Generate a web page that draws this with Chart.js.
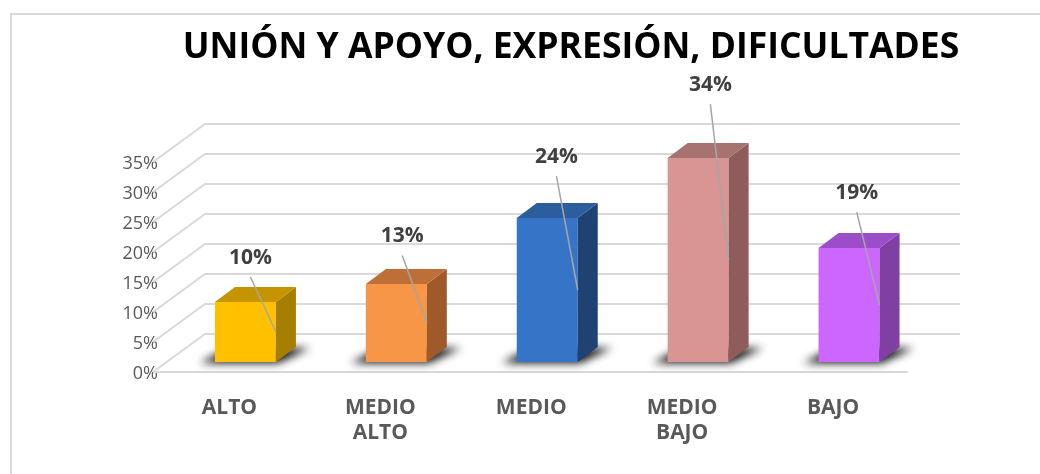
<!DOCTYPE html>
<html>
<head>
<meta charset="utf-8">
<script src="https://cdn.jsdelivr.net/npm/chart.js@4"></script>
<style>
  html, body { margin: 0; padding: 0; background: #fff; }
  #wrap { width: 1040px; height: 474px; }
</style>
</head>
<body>
<div id="wrap"><canvas id="chart" width="1040" height="474"></canvas></div>
<script>
// Chart data
const chartTitle = "UNIÓN Y APOYO, EXPRESIÓN, DIFICULTADES";
const categories = ["ALTO", ["MEDIO", "ALTO"], "MEDIO", ["MEDIO", "BAJO"], "BAJO"];
const values = [10, 13, 24, 34, 19];
const yTicks = [0, 5, 10, 15, 20, 25, 30, 35];

// Face colours per bar (front, side, top)
const frontColors = ["#FFC000", "#F79646", "#3674C8", "#D99594", "#CC66FF"];
const sideColors = ["#A67E00", "#A05A2A", "#1F4272", "#8E5C5B", "#803FA2"];
const topColors = ["#C49500", "#BE6F37", "#2C5E9E", "#A67371", "#9C4DC8"];

const DX = 20, DY = 15; // bar depth

const bar3d = {
    id: "bar3d",
    beforeDatasetsDraw(chart) {
        const { ctx, chartArea: a, scales: { y } } = chart;
        ctx.save();
        // back wall + left wall grid
        ctx.strokeStyle = "#d9d9d9";
        ctx.lineWidth = 2;
        yTicks.forEach(v => {
            const py = y.getPixelForValue(v);
            ctx.beginPath();
            ctx.moveTo(a.left - 17, py + 10);
            ctx.lineTo(a.left + 35, py - 28);
            ctx.lineTo(a.right + 35.5, py - 28);
            ctx.stroke();
        });
        ctx.beginPath();
        ctx.moveTo(a.left - 17, a.bottom + 10);
        ctx.lineTo(a.right - 16.5, a.bottom + 10);
        ctx.stroke();

        // floor shadows
        const off = 3000;
        ctx.shadowColor = "rgba(0,0,0,0.95)";
        ctx.shadowBlur = 8;
        ctx.shadowOffsetX = off;
        ctx.fillStyle = "#000";
        chart.getDatasetMeta(0).data.forEach(bar => {
            const x1 = bar.x - bar.width / 2, x2 = bar.x + bar.width / 2, b = bar.base;
            ctx.beginPath();
            ctx.moveTo(x1 - 15 - off, b + 1);
            ctx.lineTo(x2 + 2 - off, b + 1);
            ctx.lineTo(x2 + 34 - off, b - 14);
            ctx.lineTo(x1 + 14 - off, b - 14);
            ctx.closePath();
            ctx.fill();
        });
        ctx.restore();
    },
    afterDatasetsDraw(chart) {
        const { ctx } = chart;
        ctx.save();
        chart.getDatasetMeta(0).data.forEach((bar, i) => {
            const x1 = bar.x - bar.width / 2, x2 = bar.x + bar.width / 2;
            const t = bar.y, b = bar.base;
            // side face
            ctx.fillStyle = sideColors[i];
            ctx.beginPath();
            ctx.moveTo(x2, t);
            ctx.lineTo(x2 + DX, t - DY);
            ctx.lineTo(x2 + DX, b - DY);
            ctx.lineTo(x2, b);
            ctx.closePath();
            ctx.fill();
            // top face
            ctx.fillStyle = topColors[i];
            ctx.beginPath();
            ctx.moveTo(x1, t);
            ctx.lineTo(x2, t);
            ctx.lineTo(x2 + DX, t - DY);
            ctx.lineTo(x1 + DX, t - DY);
            ctx.closePath();
            ctx.fill();

            // data label with leader line
            const v = values[i];
            const lx = bar.x + 2 + 0.3 * v;
            const ly = t - (32 + 1.2 * v);
            ctx.strokeStyle = "#a6a6a6";
            ctx.lineWidth = 1.5;
            ctx.beginPath();
            ctx.moveTo(lx, ly + 19);
            ctx.lineTo(x2, (t + b) / 2);
            ctx.stroke();
            ctx.fillStyle = "#404040";
            ctx.font = "bold 21px 'Open Sans'";
            ctx.textAlign = "center";
            ctx.textBaseline = "middle";
            ctx.fillText(v + "%", lx, ly);
        });
        ctx.restore();
    },
    afterDraw(chart) {
        const { ctx } = chart;
        ctx.save();
        ctx.strokeStyle = "#d9d9d9";
        ctx.lineWidth = 2;
        ctx.strokeRect(11, 14, 1100, 600);
        ctx.fillStyle = "#000";
        ctx.font = "bold 35.5px 'Open Sans'";
        ctx.textAlign = "center";
        ctx.textBaseline = "middle";
        ctx.fillText(chartTitle, 571, 48);
        ctx.restore();
    }
};

new Chart(document.getElementById("chart"), {
    type: "bar",
    data: {
        labels: categories,
        datasets: [{
            data: values,
            backgroundColor: frontColors,
            borderWidth: 0,
            categoryPercentage: 1,
            barPercentage: 0.404
        }]
    },
    options: {
        responsive: false,
        animation: false,
        layout: { padding: { top: 152, right: 115.5, left: 0, bottom: 0 } },
        plugins: { legend: { display: false }, tooltip: { enabled: false } },
        scales: {
            x: {
                grid: { display: false, drawTicks: false },
                border: { display: false },
                ticks: {
                    color: "#595959",
                    font: { family: "'Open Sans'", size: 21, weight: "bold", lineHeight: 1.19 },
                    padding: 34,
                    labelOffset: -16,
                    maxRotation: 0
                },
                afterFit(scale) { scale.height = 112; }
            },
            y: {
                min: 0,
                max: 35,
                grid: { display: false, drawTicks: false },
                border: { display: false },
                ticks: {
                    stepSize: 5,
                    color: "#595959",
                    font: { family: "'Open Sans'", size: 18 },
                    padding: 12,
                    labelOffset: 12,
                    callback: v => v + "%"
                },
                afterFit(scale) { scale.width = 170; }
            }
        }
    },
    plugins: [bar3d]
});
</script>
</body>
</html>
